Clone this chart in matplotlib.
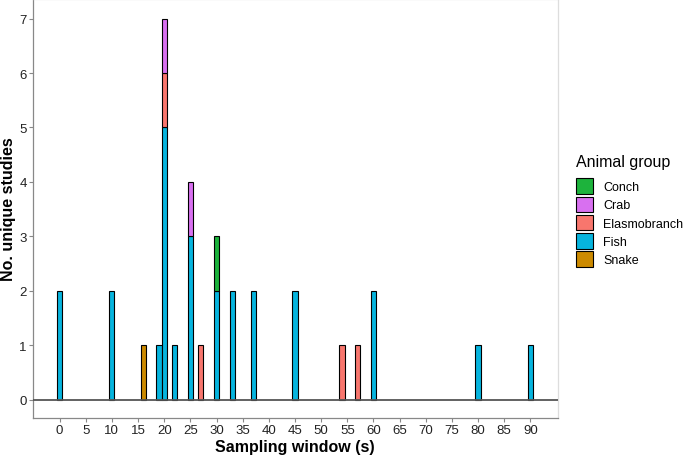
import matplotlib
matplotlib.use("Agg")
import matplotlib.pyplot as plt
from matplotlib.patches import Patch

# stacked counts per sampling window (s)
windows = [0, 10, 16, 19, 20, 22, 25, 27, 30, 33, 37, 45, 54, 57, 60, 80, 90]
fish = [2, 2, 0, 1, 5, 1, 3, 0, 2, 2, 2, 2, 0, 0, 2, 1, 1]
snake = [0, 0, 1, 0, 0, 0, 0, 0, 0, 0, 0, 0, 0, 0, 0, 0, 0]
elasmo = [0, 0, 0, 0, 1, 0, 0, 1, 0, 0, 0, 0, 1, 1, 0, 0, 0]
crab = [0, 0, 0, 0, 1, 0, 1, 0, 0, 0, 0, 0, 0, 0, 0, 0, 0]
conch = [0, 0, 0, 0, 0, 0, 0, 0, 1, 0, 0, 0, 0, 0, 0, 0, 0]

groups = ["Conch", "Crab", "Elasmobranch", "Fish", "Snake"]
colours = {"Conch": "#1DB33C", "Crab": "#D870F0", "Elasmobranch": "#F8766D",
           "Fish": "#06B4DE", "Snake": "#CC8A00"}

plt.rcParams["font.family"] = "Liberation Sans"

fig = plt.figure(figsize=(6.85, 4.56), dpi=100)
ax = fig.add_axes([0.048, 0.081, 0.766, 0.919])

# stack order from bottom: Snake, Fish, Elasmobranch, Crab, Conch
stack = [("Snake", snake), ("Fish", fish), ("Elasmobranch", elasmo),
         ("Crab", crab), ("Conch", conch)]
bottom = [0] * len(windows)
for name, vals in stack:
    xs = [w for w, v in zip(windows, vals) if v > 0]
    hs = [v for v in vals if v > 0]
    bs = [b for b, v in zip(bottom, vals) if v > 0]
    ax.bar(xs, hs, bottom=bs, width=1.0, color=colours[name],
           edgecolor="black", linewidth=0.8, zorder=3)
    bottom = [b + v for b, v in zip(bottom, vals)]

ax.axhline(0, color="#555555", linewidth=1.3, zorder=4)

ax.set_xlim(-5.1, 95.2)
ax.set_ylim(-0.34, 7.36)
ax.set_xticks(range(0, 95, 5))
ax.set_yticks(range(0, 8))
ax.tick_params(axis="both", colors="#888888", labelcolor="#222222",
               labelsize=9.5, length=3, width=0.8, pad=1.5)
ax.tick_params(axis="x", top=True)

for s in ["left", "bottom"]:
    ax.spines[s].set_color("#888888")
    ax.spines[s].set_linewidth(0.9)
for s in ["top", "right"]:
    ax.spines[s].set_color("#dddddd")
    ax.spines[s].set_linewidth(0.9)

ax.set_xlabel("Sampling window (s)", fontsize=11.5, fontweight="bold", labelpad=2)
ax.set_ylabel("No. unique studies", fontsize=11.5, fontweight="bold", labelpad=2)

handles = [Patch(facecolor=colours[g], edgecolor="black", linewidth=0.8, label=g)
           for g in groups]
leg = fig.legend(handles=handles, title="Animal group", loc="upper left",
                 bbox_to_anchor=(0.828, 0.68), frameon=False, fontsize=9,
                 title_fontsize=11.5, handlelength=1.36, handleheight=1.55,
                 handletextpad=0.8, labelspacing=0.2, borderpad=0.2)
leg._legend_box.align = "left"
leg._legend_box.sep = 7

fig.savefig("out.png", dpi=100)
